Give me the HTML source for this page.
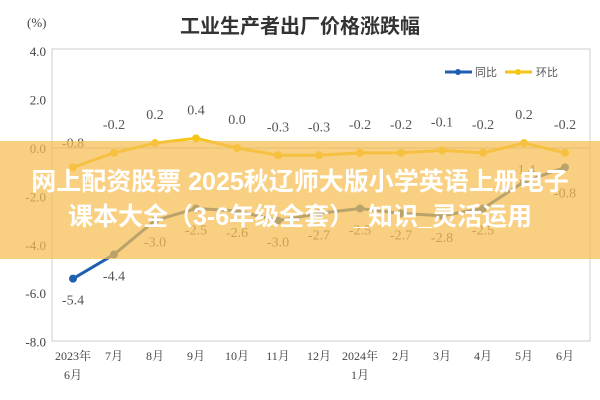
<!DOCTYPE html>
<html><head><meta charset="utf-8"><style>
body{margin:0;width:600px;height:400px;overflow:hidden;background:#fff;font-family:"Liberation Serif","Noto Serif CJK SC",serif}
svg{position:absolute;left:0;top:0}
#band{position:absolute;left:0;top:141px;width:600px;height:118px;background:rgba(247,190,80,0.72);color:#fff;font-family:"Liberation Sans","Noto Sans CJK SC",sans-serif;font-size:25px;font-weight:bold;text-align:center;line-height:35px;padding-top:24px;box-sizing:border-box;white-space:nowrap}
</style></head><body>
<svg width="600" height="400">
<text x="300" y="33" font-size="20" text-anchor="middle" font-family="Liberation Sans,Noto Sans CJK SC,sans-serif" font-weight="bold" fill="#333">工业生产者出厂价格涨跌幅</text>
<text x="27" y="27" font-size="13" fill="#444">(%)</text>
<rect x="52" y="49" width="538" height="292" fill="none" stroke="#ccc"/>
<g id="ax"></g><g id="marks"></g>
<g>
<line x1="445" y1="72" x2="472" y2="72" stroke="#1f5fb0" stroke-width="3"/><circle cx="458" cy="72" r="3" fill="#1f5fb0"/>
<text x="475" y="76" font-size="11" fill="#555" font-family="Liberation Sans,Noto Sans CJK SC,sans-serif">同比</text>
<line x1="505" y1="72" x2="532" y2="72" stroke="#f5c518" stroke-width="3"/><circle cx="518" cy="72" r="3" fill="#f5c518"/>
<text x="536" y="76" font-size="11" fill="#555" font-family="Liberation Sans,Noto Sans CJK SC,sans-serif">环比</text>
</g>
</svg>
<div id="band">网上配资股票 2025秋辽师大版小学英语上册电子<br>课本大全（3-6年级全套）_知识_灵活运用</div>
<script>
const categories=["2023年|6月","7月","8月","9月","10月","11月","12月","2024年|1月","2月","3月","4月","5月","6月"];
const yoy=[-5.4,-4.4,-3.0,-2.5,-2.6,-3.0,-2.7,-2.5,-2.7,-2.8,-2.5,-1.4,-0.8];
const mom=[-0.8,-0.2,0.2,0.4,0.0,-0.3,-0.3,-0.2,-0.2,-0.1,-0.2,0.2,-0.2];
const yTicks=[4,2,0,-2,-4,-6,-8];
const NS="http://www.w3.org/2000/svg";
const X=i=>73+i*41, Y=v=>148-v*24.2;
function mk(t,a,p){const e=document.createElementNS(NS,t);for(const k in a)e.setAttribute(k,a[k]);p.appendChild(e);return e;}
const ax=document.getElementById('ax'),mg=document.getElementById('marks');
yTicks.forEach(v=>{const t=mk('text',{x:46,y:Y(v)+5,'font-size':13,'text-anchor':'end',fill:'#444'},ax);t.textContent=v.toFixed(1);


if(v===0){const l=mk('line',{x1:52,x2:590,y1:Y(0),y2:Y(0),stroke:'#bbb'},ax);

}});
categories.forEach((c,i)=>{c.split('|').forEach((s,j)=>{const t=mk('text',{x:X(i),y:360+j*19,'font-size':12,'text-anchor':'middle',fill:'#444','font-family':'Liberation Serif,Noto Serif CJK SC,serif'},ax);t.textContent=s;

});});
function series(d,col,name,off){
const p=mk('polyline',{points:d.map((v,i)=>X(i)+','+Y(v)).join(' '),fill:'none',stroke:col,'stroke-width':3},mg);


d.forEach((v,i)=>{const c=mk('circle',{cx:X(i),cy:Y(v),r:4,fill:col},mg);


const t=mk('text',{x:X(i),y:Y(v)+off(i),'font-size':14,'text-anchor':'middle',fill:'#555'},mg);t.textContent=v.toFixed(1);

});}
series(yoy,'#1f5fb0','yoy',i=>i>=11?(i==11?-8:30):26);
series(mom,'#f5c518','mom',i=>i==0?-20:-24);
</script>
</body></html>
